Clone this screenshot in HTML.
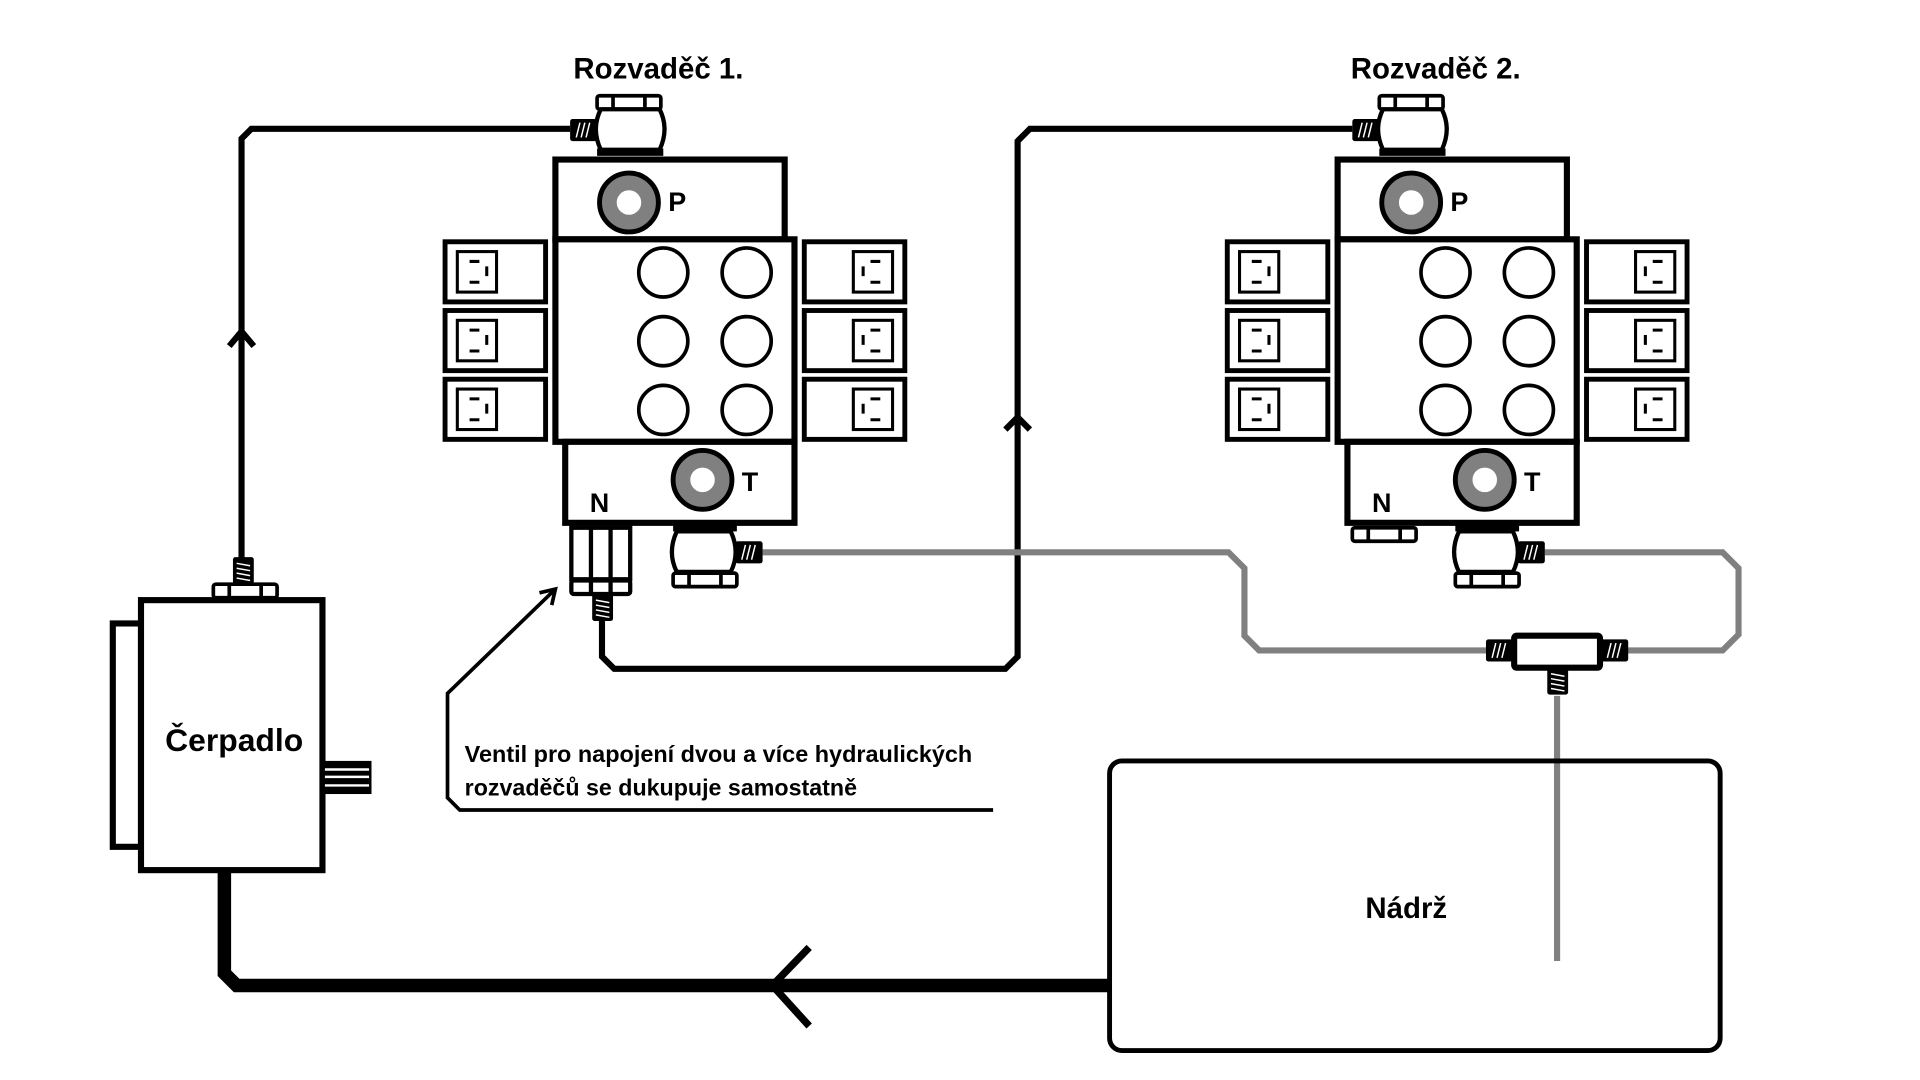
<!DOCTYPE html>
<html><head><meta charset="utf-8"><style>html,body{margin:0;padding:0;background:#fff;width:1920px;height:1080px;overflow:hidden}svg{display:block}text{font-family:"Liberation Sans Narrow","Liberation Sans",sans-serif;font-weight:bold;fill:#000}</style></head>
<body>
<svg width="1920" height="1080" viewBox="0 0 1566 880" preserveAspectRatio="none" xmlns="http://www.w3.org/2000/svg">
<defs>
<g id="sbox">
<rect x="0" y="0" width="82" height="49" fill="#fff" stroke="#000" stroke-width="4"/>
<rect x="10" y="8" width="32" height="33" fill="none" stroke="#000" stroke-width="2.5"/>
<path d="M20 16h8M20 33h8M34 20v8" stroke="#000" stroke-width="2.5" fill="none"/>
</g>
<g id="nut"><rect x="0" y="0" width="52" height="11" rx="2" fill="#fff" stroke="#000" stroke-width="3"/><path d="M13 0v11M39 0v11" stroke="#000" stroke-width="3"/></g>
<g id="thrH"><rect x="0" y="0" width="22" height="18" rx="2" fill="#000"/><path d="M5 15l3-12M9 15l3-12M13 15l3-12" stroke="#fff" stroke-width="1.2"/></g>
<g id="thrV"><rect x="0" y="0" width="17" height="22" rx="2" fill="#000"/><path d="M3 5l11 2M3 9l11 2M3 13l11 2M3 17l11 2" stroke="#fff" stroke-width="1.2"/></g>
<g id="valve">
<use href="#nut" x="487" y="78"/>
<path d="M490 89 Q482 105 490 122 L538 122 Q546 105 538 89 Z" fill="#fff" stroke="#000" stroke-width="3.5"/>
<use href="#thrH" x="465" y="97"/>
<rect x="487" y="121" width="54" height="6" fill="#000"/>
<rect x="453" y="130" width="187" height="65" fill="#fff" stroke="#000" stroke-width="5"/>
<rect x="453" y="195" width="195" height="165" fill="#fff" stroke="#000" stroke-width="5"/>
<rect x="461" y="360" width="187" height="66" fill="#fff" stroke="#000" stroke-width="5"/>
<circle cx="513" cy="165" r="24" fill="#808080" stroke="#000" stroke-width="4"/>
<circle cx="513" cy="165" r="10" fill="#fff"/>
<circle cx="573" cy="391" r="24" fill="#808080" stroke="#000" stroke-width="4"/>
<circle cx="573" cy="391" r="10" fill="#fff"/>
<g fill="none" stroke="#000" stroke-width="3">
<circle cx="541" cy="222" r="20"/><circle cx="609" cy="222" r="20"/>
<circle cx="541" cy="278" r="20"/><circle cx="609" cy="278" r="20"/>
<circle cx="541" cy="334" r="20"/><circle cx="609" cy="334" r="20"/>
</g>
<use href="#sbox" x="363" y="197"/><use href="#sbox" x="363" y="253"/><use href="#sbox" x="363" y="309"/>
<g transform="translate(1393,0) scale(-1,1)"><use href="#sbox" x="655" y="197"/><use href="#sbox" x="655" y="253"/><use href="#sbox" x="655" y="309"/></g>
<rect x="549" y="427" width="52" height="6" fill="#000"/>
<path d="M552 433 Q544 450 552 466 L596 466 Q604 450 596 433 Z" fill="#fff" stroke="#000" stroke-width="3.5"/>
<use href="#nut" x="549" y="467"/>
<use href="#thrH" x="600" y="441"/>
</g>
</defs>

<text x="537" y="64" font-size="24" text-anchor="middle" style="font-family:'Liberation Sans',sans-serif">Rozvaděč 1.</text>
<text x="1171" y="64" font-size="24" text-anchor="middle" style="font-family:'Liberation Sans',sans-serif">Rozvaděč 2.</text>

<g fill="none" stroke="#000" stroke-width="5">
<path d="M465 105 H205 L197 113 V455"/>
<path d="M187 282 L197 270 L207 282"/>
<path d="M491 505 V535 L501 545 H820 L830 535 V115 L840 105 H1103"/>
<path d="M820 350 L830 340 L840 350"/>
<path d="M453 480 L365 565 V650 L375 660 H810" stroke-width="3"/>
<path d="M440 483 L453 480 L450 493" stroke-width="3"/>
</g>
<g fill="none" stroke="#808080" stroke-width="5">
<path d="M622 450 H1002 L1015 463 V518 L1027 530 H1213"/>
<path d="M1327 530 H1405 L1418 517 V463 L1405 450 H1260"/>
<path d="M1270 567 V783"/>
</g>

<use href="#valve"/>
<use href="#valve" transform="translate(638,0)"/>
<text x="545" y="172" font-size="22" style="font-family:'Liberation Sans',sans-serif">P</text>
<text x="1183" y="172" font-size="22" style="font-family:'Liberation Sans',sans-serif">P</text>
<text x="605" y="400" font-size="22" style="font-family:'Liberation Sans',sans-serif">T</text>
<text x="1243" y="400" font-size="22" style="font-family:'Liberation Sans',sans-serif">T</text>
<text x="481" y="417" font-size="22" style="font-family:'Liberation Sans',sans-serif">N</text>
<text x="1119" y="417" font-size="22" style="font-family:'Liberation Sans',sans-serif">N</text>

<g stroke="#000" stroke-width="3.5" fill="#fff">
<rect x="466" y="430" width="48" height="42"/>
<path d="M482 430v42M498 430v42"/>
<rect x="466" y="473" width="48" height="11" rx="2"/>
<path d="M482 473v11M498 473v11"/>
</g>
<use href="#thrV" x="483" y="484"/>
<use href="#nut" x="1103" y="430"/>

<use href="#thrH" x="1212" y="521"/>
<use href="#thrH" x="1306" y="521"/>
<rect x="1235" y="518" width="70" height="26" rx="2" fill="#fff" stroke="#000" stroke-width="5"/>
<use href="#thrV" x="1262" y="544"/>

<g stroke="#000" stroke-width="5" fill="#fff">
<rect x="92" y="508" width="23" height="182"/>
<rect x="115" y="489" width="148" height="220"/>
<rect x="263" y="620" width="40" height="27" stroke="none" fill="#000"/>
</g>
<path d="M265 627h36M265 633h36M265 640h36" stroke="#fff" stroke-width="2"/>
<use href="#nut" x="174" y="476"/>
<use href="#thrV" x="190" y="454"/>
<text x="191" y="612" font-size="26" text-anchor="middle" style="font-family:'Liberation Sans',sans-serif">Čerpadlo</text>

<path d="M183 709 V793 L193 803 H905" fill="none" stroke="#000" stroke-width="11"/>
<path d="M660 772 L630 803 L660 836" fill="none" stroke="#000" stroke-width="6"/>

<rect x="905" y="620" width="498" height="236" rx="10" fill="none" stroke="#000" stroke-width="4"/>
<text x="1147" y="748" font-size="24" text-anchor="middle" style="font-family:'Liberation Sans',sans-serif">Nádrž</text>

<text x="379" y="621" font-size="19" textLength="414" lengthAdjust="spacingAndGlyphs">Ventil pro napojení dvou a více hydraulických</text>
<text x="379" y="648" font-size="19" textLength="320" lengthAdjust="spacingAndGlyphs">rozvaděčů se dukupuje samostatně</text>
</svg>
</body></html>
